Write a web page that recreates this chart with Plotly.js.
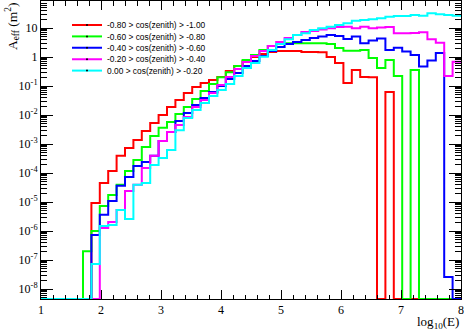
<!DOCTYPE html>
<html><head><meta charset="utf-8">
<script src="https://cdn.plot.ly/plotly-3.0.1.min.js"></script>
<style>html,body{margin:0;padding:0;background:#fff}#chart{width:464px;height:332px}</style>
</head><body><div id="chart"></div>
<script>
// bin edges in log10(E)
const binEdges = [1.00,1.14,1.28,1.42,1.56,1.70,1.84,1.98,2.12,2.26,2.40,2.54,2.68,2.82,2.96,3.10,3.24,3.38,3.52,3.66,3.80,3.94,4.08,4.22,4.36,4.50,4.64,4.78,4.92,5.06,5.20,5.34,5.48,5.62,5.76,5.90,6.04,6.18,6.32,6.46,6.60,6.74,6.88,7.02,7.16,7.30,7.44,7.58,7.72,7.86,8.00];

const seriesNames = [
  "-0.80 > cos(zenith) > -1.00",
  "-0.60 > cos(zenith) > -0.80",
  "-0.40 > cos(zenith) > -0.60",
  "-0.20 > cos(zenith) > -0.40",
  "0.00 > cos(zenith) > -0.20"
];
const seriesColors = ["#ff0000", "#00ff00", "#0000ff", "#ff00ff", "#00ffff"];

// effective area (m^2) per bin, 0 = empty bin
const aeffZen1 = [0,0,0,0,0,0,9.2e-6,4.5e-5,1.17e-4,3.9e-4,7.3e-4,1.37e-3,2.8e-3,5.3e-3,0.010,0.019,0.033,0.057,0.092,0.127,0.161,0.204,0.33,0.49,0.73,1.0,1.27,1.49,1.61,1.61,1.6,1.49,1.49,1.45,1.0,0.62,0.127,0.356,0.204,0.2,0,0.062,0,0,0,0,0,0,0,0];
const aeffZen2 = [0,0,0,0,0,2.0e-7,1.0e-6,7.3e-6,1.74e-5,3.9e-5,1.17e-4,2.8e-4,7.9e-4,1.9e-3,3.6e-3,5.7e-3,0.0108,0.019,0.0356,0.067,0.117,0.2,0.3,0.49,0.79,1.17,1.74,2.4,2.8,3.0,3.0,3.0,3.0,3.0,2.8,2.04,1.65,1.65,1.74,0.92,0.42,0.79,0.22,0,0.356,0,0,0,0,0];
const aeffZen3 = [0,0,0,0,0,0,7.3e-7,3.6e-6,1.08e-5,3.6e-5,7.3e-5,1.74e-4,2.4e-4,3.9e-4,1.27e-3,2.6e-3,6.2e-3,0.0117,0.022,0.0385,0.062,0.1,0.174,0.28,0.49,0.73,1.08,1.61,2.2,2.8,3.3,3.86,4.5,5.1,5.7,5.3,4.2,5.1,3.0,3.7,4.35,1.74,2.1,1.55,1.17,0.47,0.76,1.37,2.6e-8,0];
const aeffZen4 = [0,0,0,0,0,0,0,1.27e-6,2.04e-6,5.3e-6,2.4e-5,3.9e-5,1.49e-4,3.9e-4,1.27e-3,2.6e-3,4.5e-3,8.5e-3,0.019,0.033,0.057,0.108,0.204,0.385,0.67,1.08,1.61,2.4,3.3,4.5,5.7,7.3,7.9,8.9,9.8,10.8,11.1,9.8,11.1,9.8,10.4,10.8,6.6,6.6,6.7,7.1,4.1,3.1,0.22,0.69];
const aeffZen5 = [0,0,0,0,0,0,7.3e-8,1.49e-6,1.6e-6,5.3e-6,2.6e-6,3.9e-5,4.5e-5,1.9e-4,3.3e-4,6.2e-4,3.0e-3,7.9e-3,0.0149,0.026,0.045,0.073,0.117,0.22,0.42,0.62,1.02,1.74,2.8,4.1,5.7,6.6,8.5,9.8,11.1,12.7,14.5,17.9,18.9,20,21.6,24.5,26,26,28,26.5,32,30,28,26.5];
const allSeries = [aeffZen1, aeffZen2, aeffZen3, aeffZen4, aeffZen5];

const yLogRange = [-8.345, 1.931];
const yFloor = Math.pow(10, yLogRange[0]);

const yTickVals = [1e-8,1e-7,1e-6,1e-5,1e-4,1e-3,1e-2,1e-1,1,10];
const yTickText = ["10<sup>-8</sup>","10<sup>-7</sup>","10<sup>-6</sup>","10<sup>-5</sup>","10<sup>-4</sup>","10<sup>-3</sup>","10<sup>-2</sup>","10<sup>-1</sup>","1","10"];
const xTickVals = [1,2,3,4,5,6,7,8];
const xTickText = ["1","2","3","4","5","6","7","8"];

const legendRowsPx = [25, 36.4, 47.8, 59.2, 70.6];
const plotTop = 1, plotBottom = 299;

const traces = allSeries.map((vals, i) => {
  const y = vals.map(v => v > 0 ? v : yFloor);
  y.push(y[y.length - 1]);
  return {
    type: 'scatter', mode: 'lines+markers',
    x: binEdges, y: y,
    name: seriesNames[i],
    line: {color: seriesColors[i], width: 2, shape: 'hv'},
    marker: {size: 0.01, color: '#000', line: {width: 0}},
    legend: i === 0 ? 'legend' : 'legend' + (i + 1),
    hoverinfo: 'skip'
  };
});

const serif = 'Liberation Serif, Times New Roman, serif';
const sans = 'Liberation Sans, Arial, sans-serif';

const layout = {
  width: 464, height: 332,
  margin: {l: 41, r: 3, t: plotTop, b: 332 - plotBottom},
  paper_bgcolor: '#ffffff', plot_bgcolor: '#ffffff',
  showlegend: true,
  xaxis: {
    range: [1, 8], showgrid: false, zeroline: false,
    showline: true, linecolor: '#000', linewidth: 1, mirror: 'allticks',
    ticks: 'inside', ticklen: 9, tickwidth: 1, tickcolor: '#000',
    tickvals: xTickVals, ticktext: xTickText,
    tickfont: {family: serif, size: 12, color: '#000'},
    minor: {ticks: 'inside', ticklen: 4.5, dtick: 0.2, tickcolor: '#000', tickwidth: 1}
  },
  yaxis: {
    type: 'log', range: yLogRange, showgrid: false, zeroline: false,
    showline: true, linecolor: '#000', linewidth: 1, mirror: 'allticks',
    ticks: 'inside', ticklen: 12, tickwidth: 1, tickcolor: '#000',
    tickvals: yTickVals, ticktext: yTickText,
    tickfont: {family: serif, size: 12, color: '#000'},
    minor: {ticks: 'inside', ticklen: 6, dtick: 'D1', tickcolor: '#000', tickwidth: 1}
  },
  annotations: [
    {text: 'log<sub>10</sub>(E)', xref: 'paper', yref: 'paper', x: 1, xanchor: 'right',
     y: (plotBottom - 323) / (plotBottom - plotTop), yanchor: 'middle', showarrow: false,
     font: {family: serif, size: 13, color: '#000'}},
    {text: 'A<sub>eff</sub> (m<sup>2</sup>)', xref: 'paper', yref: 'paper', x: (12 - 41) / 420, xanchor: 'center',
     y: 1.003, yanchor: 'top', textangle: -90, showarrow: false,
     font: {family: serif, size: 13.5, color: '#000'}}
  ]
};

legendRowsPx.forEach((py, i) => {
  const key = i === 0 ? 'legend' : 'legend' + (i + 1);
  layout[key] = {
    x: (67 - 41) / 420, xanchor: 'left',
    y: (plotBottom - py) / (plotBottom - plotTop), yanchor: 'middle',
    bgcolor: 'rgba(0,0,0,0)', borderwidth: 0,
    font: {family: sans, size: 8.4, color: '#000'},
    itemwidth: 30
  };
});

Plotly.newPlot('chart', traces, layout, {staticPlot: true, displayModeBar: false});
</script>
</body></html>
